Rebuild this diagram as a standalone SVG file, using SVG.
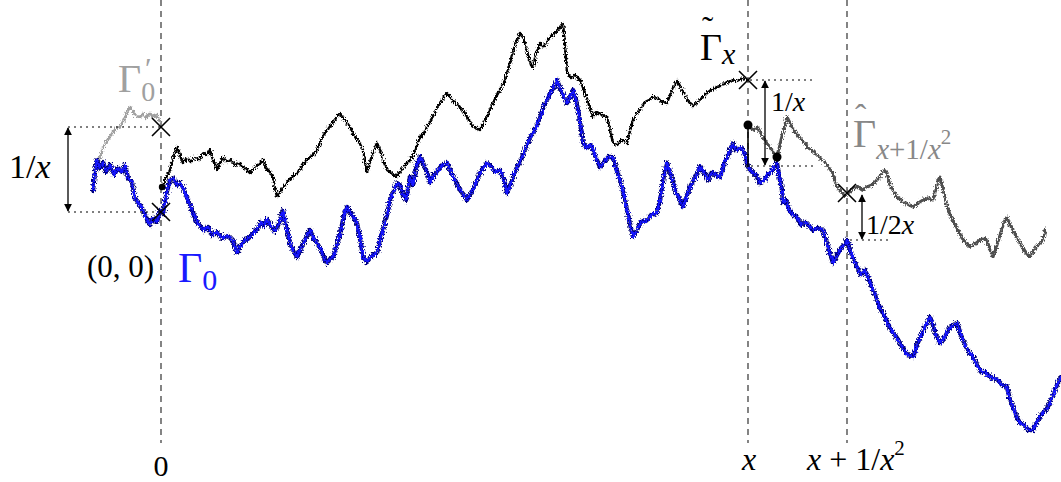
<svg xmlns="http://www.w3.org/2000/svg" width="1061" height="482" viewBox="0 0 1061 482">
<style>
text{font-family:'Liberation Serif','DejaVu Serif','Times New Roman',serif;}
.it{font-style:italic}
.dash{stroke:#333;stroke-width:1.2;stroke-dasharray:6 5;fill:none}
.dot{stroke:#000;stroke-width:1.1;stroke-dasharray:2 4;fill:none}
.walk{fill:none;stroke-linejoin:round;stroke-linecap:round}
.cross{stroke:#000;stroke-width:1.6;fill:none}
.arr{stroke:#000;stroke-width:1.3;fill:none;marker-start:url(#ah);marker-end:url(#ah)}
</style>
<defs>
<marker id="ah" viewBox="0 0 10 10" refX="9" refY="5" markerWidth="8" markerHeight="11" markerUnits="userSpaceOnUse" orient="auto-start-reverse"><path d="M0,0 L10,5 L0,10 Z" fill="#000"/></marker>
<filter id="rough" filterUnits="userSpaceOnUse" x="0" y="0" width="1061" height="482"><feTurbulence type="fractalNoise" baseFrequency="0.9 0.5" numOctaves="2" seed="5" result="n"/><feDisplacementMap in="SourceGraphic" in2="n" scale="6" xChannelSelector="R" yChannelSelector="G"/></filter>
<polyline id="g0path" class="walk" points="93,190 95,172 97,160 100,168 103,162 106,172 110,165 114,175 118,168 122,172 125,165 128,178 132,182 135,198 140,205 145,215 150,225 153,218 157,222 160,210 163,214 166,195 170,180 173,178 177,185 180,183 184,190 188,200 193,213 197,222 203,230 208,227 212,235 217,232 222,238 228,236 233,241 237,253 241,245 245,240 250,237 254,232 258,228 261,222 264,226 267,219 271,226 274,231 277,228 280,220 283,210 286,225 290,243 293,250 297,257 301,248 305,240 310,230 313,237 317,243 321,250 324,258 327,263 330,259 333,257 337,245 341,230 344,215 347,207 350,212 354,218 357,223 360,238 363,257 367,262 372,255 377,253 380,240 383,230 387,215 390,200 394,190 397,183 400,185 403,195 406,200 410,177 413,185 417,165 420,157 424,165 427,172 430,183 434,175 438,170 442,165 447,163 451,172 455,180 460,190 464,195 467,200 471,193 475,185 479,175 483,168 487,163 491,166 495,172 500,170 504,180 507,193 511,183 514,175 517,167 521,160 525,150 529,140 533,133 537,125 541,115 544,105 547,100 550,93 554,87 557,80 560,88 564,97 567,103 570,97 573,90 576,100 579,115 583,143 587,148 591,145 596,158 600,167 604,162 608,157 613,157 616,168 620,180 624,195 628,215 633,237 637,230 641,222 647,220 651,215 657,213 661,195 664,175 667,163 671,175 675,190 679,198 683,207 687,195 691,185 695,178 700,167 704,172 708,180 712,172 716,175 720,177 724,165 728,155 733,143 736,150 740,148 743,150 746,158 748,167 752,172 756,175 760,183 764,180 768,175 772,170 777,163 779,175 782,190 783,203 786,200 789,210 793,215 797,217 801,225 805,222 809,226 813,230 818,228 823,230 826,240 829,250 833,263 837,255 841,248 844,245 847,240 850,250 854,260 857,267 861,275 865,270 869,280 873,290 877,300 880,308 883,313 887,322 891,330 895,335 900,343 904,350 908,355 913,357 917,345 921,335 926,325 930,317 933,325 936,335 940,343 944,338 948,330 952,326 957,323 961,335 965,345 969,352 973,357 977,365 981,372 985,372 990,377 994,378 998,380 1002,385 1007,387 1010,400 1014,410 1017,418 1020,423 1024,425 1028,430 1033,430 1037,422 1041,415 1046,410 1050,403 1053,395 1057,385 1061,377"/>
</defs>
<g id="axes">
<line class="dash" x1="161" y1="0" x2="161" y2="443"/>
<line class="dash" x1="748" y1="0" x2="748" y2="443"/>
<line class="dash" x1="847" y1="0" x2="847" y2="443"/>
</g>
<g id="walks" filter="url(#rough)">
<polyline id="gamma0prime" class="walk" stroke="#a0a0a0" stroke-width="2.6" points="97,162 100,157 103,148 106,142 110,137 113,132 117,128 120,127 124,120 127,112 130,107 133,112 136,116 140,117 143,114 146,118 150,113 153,117 157,115 160,122"/>
<polyline id="gammahat" class="walk" stroke="#4f4f4f" stroke-width="3" points="748,125 753,130 758,128 763,137 768,145 773,152 777,157 781,140 785,125 787,117 791,125 795,132 800,138 804,142 808,148 812,150 817,155 822,160 827,165 832,172 837,187 841,192 845,196 848,193 852,190 857,186 862,190 867,187 872,185 877,180 881,175 884,170 887,173 890,185 894,192 897,197 901,200 905,203 909,205 913,207 918,203 923,200 928,198 933,200 936,190 938,180 940,177 943,190 947,205 950,215 953,220 958,230 962,238 966,243 970,247 975,244 980,240 984,238 987,240 990,250 993,257 997,245 1001,232 1004,222 1007,217 1010,225 1013,230 1017,238 1021,245 1025,252 1030,257 1034,250 1038,245 1043,240 1045,230"/>
<polyline id="gammatilde" class="walk" stroke="#000" stroke-width="2.5" points="162,187 166,178 170,170 173,158 177,147 180,155 183,163 187,158 191,162 195,157 199,160 203,153 207,155 210,150 213,160 217,170 220,163 223,157 227,162 231,160 235,165 239,163 243,167 247,170 250,173 254,168 258,165 263,160 266,168 270,172 273,177 275,188 277,197 281,190 285,185 289,180 293,176 297,173 301,168 305,162 309,158 313,155 317,150 321,140 325,133 329,128 333,122 337,117 340,113 343,118 347,123 350,127 354,135 359,142 363,150 365,162 367,172 370,162 374,150 377,143 380,150 383,160 387,170 390,172 394,175 397,177 401,170 405,165 410,160 413,155 417,145 420,137 424,133 428,125 432,118 436,110 440,103 444,97 447,93 451,98 455,103 460,107 464,112 468,118 472,125 476,128 480,130 484,122 488,115 492,105 496,97 500,90 504,82 508,70 512,55 516,42 520,33 524,40 528,55 531,65 533,67 536,55 540,43 544,47 548,40 552,35 556,32 560,27 563,23 565,45 567,73 571,78 575,75 580,80 584,90 589,105 593,117 597,112 602,115 607,117 610,130 613,143 617,145 622,140 627,143 630,130 633,120 637,113 641,108 645,102 649,100 653,97 657,98 662,102 667,103 670,95 673,88 677,80 681,88 685,95 689,102 693,107 697,102 702,98 707,93 711,90 715,88 720,86 724,84 729,82 733,80 737,81 741,79 745,78 748,80"/>
<g id="gamma0">
<use href="#g0path" stroke="#000070" stroke-width="4.4"/>
<use href="#g0path" stroke="#1414ff" stroke-width="2.4"/>
</g>
</g>
<g id="jump">
<line x1="748" y1="125" x2="748" y2="167" stroke="#000" stroke-width="1.6"/>
<circle cx="162" cy="187" r="3.2" fill="#000"/>
<circle cx="748" cy="125" r="4.5" fill="#000"/>
<circle cx="777" cy="157" r="4.5" fill="#000"/>
</g>
<g id="marks">
<path class="cross" d="M152,118 L170,136 M170,118 L152,136"/>
<path class="cross" d="M152,203 L170,221 M170,203 L152,221"/>
<path class="cross" d="M739,71 L757,89 M757,71 L739,89"/>
<path class="cross" d="M838,184 L856,202 M856,184 L838,202"/>
</g>
<g id="measures">
<line class="dot" x1="68" y1="127" x2="160" y2="127"/>
<line class="dot" x1="68" y1="212" x2="160" y2="212"/>
<line class="arr" x1="68" y1="128" x2="68" y2="211"/>
<line class="dot" x1="750" y1="80" x2="815" y2="80"/>
<line class="dot" x1="745" y1="166" x2="815" y2="166"/>
<line class="arr" x1="765" y1="81" x2="765" y2="165"/>
<line class="dot" x1="850" y1="240" x2="892" y2="240"/>
<line class="arr" x1="862" y1="195" x2="862" y2="239"/>
</g>
<g id="labels" font-family="Liberation Serif, DejaVu Serif, serif">
<text x="9" y="178" font-size="34">1/<tspan class="it">x</tspan></text>
<text x="87" y="277" font-size="31">(0, 0)</text>
<text x="178" y="282" font-size="42" fill="#1a1aff">Γ<tspan dy="8" font-size="30">0</tspan></text>
<text x="118" y="92" font-size="40" fill="#a0a0a0">Γ<tspan dy="9" font-size="28">0</tspan></text>
<text x="145" y="78" font-size="30" fill="#a0a0a0">′</text>
<text x="700" y="60" font-size="38">Γ<tspan class="it" dy="4" font-size="30">x</tspan></text>
<text x="702" y="40" font-size="34">˜</text>
<text x="853" y="147" font-size="40" fill="#888">Γ<tspan class="it" dy="12" font-size="29">x</tspan><tspan font-size="29">+1/</tspan><tspan class="it" font-size="29">x</tspan><tspan dy="-15" font-size="21">2</tspan></text>
<text x="855" y="128" font-size="34" fill="#888">ˆ</text>
<text x="771" y="111" font-size="28">1/<tspan class="it">x</tspan></text>
<text x="866" y="234" font-size="28">1/2<tspan class="it">x</tspan></text>
<text x="161" y="476" text-anchor="middle" font-size="30">0</text>
<text class="it" x="749" y="470" text-anchor="middle" font-size="32">x</text>
<text x="807" y="470" font-size="32"><tspan class="it">x</tspan> + 1/<tspan class="it">x</tspan><tspan dy="-15" font-size="21">2</tspan></text>
</g>
</svg>
